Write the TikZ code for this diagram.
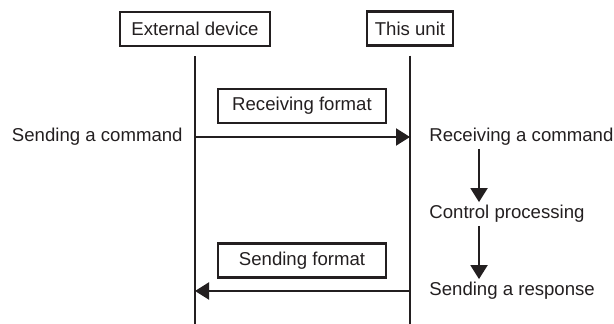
\documentclass[tikz,border=0pt]{standalone}
\usepackage{fontspec}
\setmainfont{Liberation Sans}
\usetikzlibrary{arrows.meta,positioning}
\definecolor{ink}{RGB}{35,31,32}

\begin{document}
\begin{tikzpicture}[
  x=0.5pt, y=-0.5pt,
  devbox/.style={rectangle, draw=ink, line width=1.1pt, minimum height=17pt,
                 inner xsep=4pt, font=\fontsize{9.3}{11}\selectfont, text=ink},
  fmtbox/.style={rectangle, draw=ink, line width=1.1pt, minimum width=84pt,
                 minimum height=17pt, font=\fontsize{9.3}{11}\selectfont, text=ink},
  lbl/.style={inner sep=1.5pt, text height=6.5pt, text depth=2pt,
              font=\fontsize{9.3}{11}\selectfont, text=ink},
  life/.style={draw=ink, line width=1pt},
  arr/.style={-{Triangle[length=7pt, width=8.5pt]}, draw=ink, line width=1pt},
]
\useasboundingbox (0,0) rectangle (614,324);

% The two parties
\node[devbox, minimum width=75pt] (ext)  at (195,29)   {External device};
\node[devbox, minimum width=40.5pt] (unit) at (410,28.5) {This unit};

% Lifelines
\coordinate (base) at (0,324);
\draw[life] ([yshift=-4.5pt]ext.south)  -- (ext.south |- base);
\draw[life] ([yshift=-4.5pt]unit.south) -- (unit.south |- base);

% Command going out
\coordinate (cmdL) at (195,137);
\coordinate (cmdR) at (410,137);
\node[fmtbox] (rcvfmt) at (302,106) {Receiving format};
\node[lbl, left=4.5pt of cmdL] (cmdsend) {Sending a command};
\draw[arr] (cmdL) -- (cmdR);

% Steps inside the unit
\coordinate (flowx) at (479,0);
\node[lbl, anchor=west] (rcvcmd)   at (426,137) {Receiving a command};
\node[lbl, anchor=west] (ctrl)     at (426,214) {Control processing};
\node[lbl, anchor=west] (sendresp) at (426,291) {Sending a response};
\draw[arr] (rcvcmd.south -| flowx) -- (ctrl.north -| flowx);
\draw[arr] (ctrl.south -| flowx)   -- (sendresp.north -| flowx);

% Response coming back
\coordinate (rspL) at (195,291);
\coordinate (rspR) at (410,291);
\node[fmtbox] (sndfmt) at (302,260.5) {Sending format};
\draw[arr] (rspR) -- (rspL);

\end{tikzpicture}
\end{document}
